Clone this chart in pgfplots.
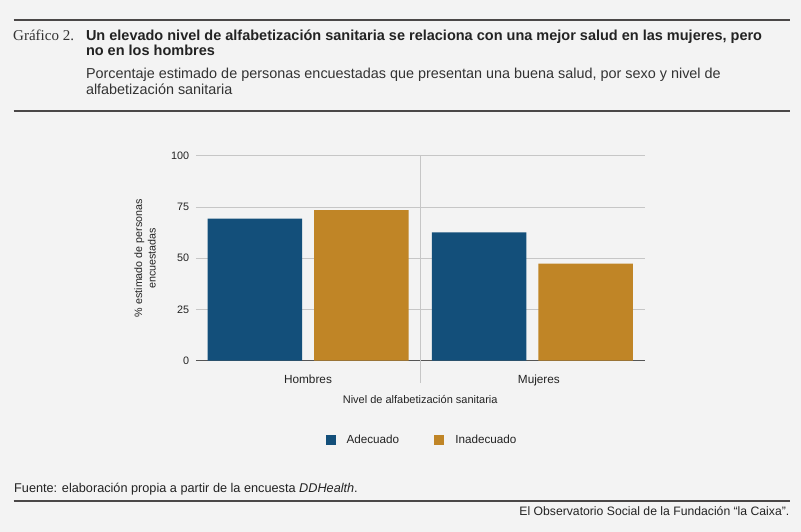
\documentclass[border=0pt]{standalone}
\usepackage{pgfplots}
\pgfplotsset{compat=1.18}
\usepackage{fontspec}
\setmainfont{Liberation Sans}
\newfontfamily\serifc{Liberation Serif}
\definecolor{bg}{HTML}{F3F3F3}
\definecolor{rulec}{HTML}{4A4747}
\definecolor{blueA}{HTML}{134F7A}
\definecolor{goldI}{HTML}{C08526}
\definecolor{txt}{HTML}{232323}
\definecolor{sub}{HTML}{333333}
\definecolor{gridc}{HTML}{C6C6C6}
\definecolor{axc}{HTML}{555555}
\begin{document}
\begin{tikzpicture}
\fill[bg] (0pt,0pt) rectangle (801pt,-532pt);
\useasboundingbox (0pt,0pt) rectangle (801pt,-532pt);
\draw[rulec, line width=2.2pt] (13.5pt,-20pt) -- (789.5pt,-20pt);
\draw[rulec, line width=2.2pt] (13.5pt,-111pt) -- (789.5pt,-111pt);
\draw[rulec, line width=2.2pt] (13.5pt,-501pt) -- (789.5pt,-501pt);
\node[anchor=base west, inner sep=0pt, text=sub, font=\serifc\fontsize{15}{17}\selectfont] at (13pt,-40.7pt) {Gráfico 2.};
\node[anchor=base west, inner sep=0pt, text=txt, font=\bfseries\fontsize{14.5}{17}\selectfont] at (85.8pt,-40.7pt) {Un elevado nivel de alfabetización sanitaria se relaciona con una mejor salud en las mujeres, pero};
\node[anchor=base west, inner sep=0pt, text=txt, font=\bfseries\fontsize{14.5}{17}\selectfont] at (85.8pt,-55.7pt) {no en los hombres};
\node[anchor=base west, inner sep=0pt, text=sub, font=\fontsize{14.4}{17}\selectfont] at (85.8pt,-79pt) {Porcentaje estimado de personas encuestadas que presentan una buena salud, por sexo y nivel de};
\node[anchor=base west, inner sep=0pt, text=sub, font=\fontsize{14.4}{17}\selectfont] at (85.8pt,-94.5pt) {alfabetización sanitaria};
\node[anchor=base west, inner sep=0pt, text=txt, font=\fontsize{12.7}{15}\selectfont] at (14pt,-492.5pt) {Fuente: elaboración propia a partir de la encuesta \textit{DDHealth}.};
\node[anchor=base east, inner sep=0pt, text=txt, font=\fontsize{12.2}{15}\selectfont] at (789.5pt,-515.5pt) {El Observatorio Social de la Fundación “la Caixa”.};
\begin{axis}[
  at={(195.8pt,-360.7pt)}, anchor=south west,
  scale only axis, width=448.8pt, height=205pt,
  ymin=0, ymax=100, xmin=-0.5, xmax=1.5,
  ytick={0,25,50,75,100},
  xtick={0,1.029}, xticklabels={Hombres,Mujeres},
  extra x ticks={0.5}, extra x tick labels={},
  extra x tick style={grid=major, major tick length=22pt, tick align=outside, xtick style={draw=gridc, line width=0.7pt}},
  axis x line*=bottom, axis y line*=left,
  x axis line style={draw=axc, line width=0.9pt, -},
  y axis line style={draw=none},
  ytick style={draw=none}, xtick style={draw=none},
  ymajorgrids, grid style={draw=gridc, line width=0.7pt},
  /pgf/number format/assume math mode=true,
  yticklabel style={anchor=east, inner sep=0pt, xshift=-6.5pt, font=\fontsize{10.8}{12}\selectfont, text=txt},
  xticklabel style={anchor=base, inner sep=0pt, yshift=-22.5pt, font=\fontsize{11.8}{13}\selectfont, text=txt},
  xlabel={Nivel de alfabetización sanitaria},
  xlabel style={at={(axis description cs:0.5,0)}, anchor=base, inner sep=0pt, yshift=-42.5pt, font=\fontsize{11}{13}\selectfont, text=txt},
  ylabel={\% estimado de personas\\encuestadas},
  ylabel style={at={(axis description cs:-0.113,0.5)}, anchor=center, rotate=0, align=center, inner sep=0pt, font=\fontsize{10.7}{13.5}\selectfont, text=txt},
  legend style={at={(axis description cs:0.504,-0.389)}, anchor=center, draw=none, fill=none, legend columns=-1, font=\fontsize{11.7}{13}\selectfont, text=txt, /tikz/every odd column/.append style={column sep=9pt}, /tikz/every even column/.append style={column sep=33pt}},
  clip=false,
]
\addplot[ybar, bar width=94.5pt, bar shift=-53.25pt, fill=blueA, draw=none, legend image code/.code={\fill[blueA] (0pt,-5pt) rectangle (10pt,5pt);}] coordinates {(0,69.3) (1,62.6)};
\addlegendentry{Adecuado}
\addplot[ybar, bar width=94.5pt, bar shift=53.25pt, fill=goldI, draw=none, legend image code/.code={\fill[goldI] (0pt,-5pt) rectangle (10pt,5pt);}] coordinates {(0,73.4) (1,47.3)};
\addlegendentry{Inadecuado}
\end{axis}
\end{tikzpicture}
\end{document}
